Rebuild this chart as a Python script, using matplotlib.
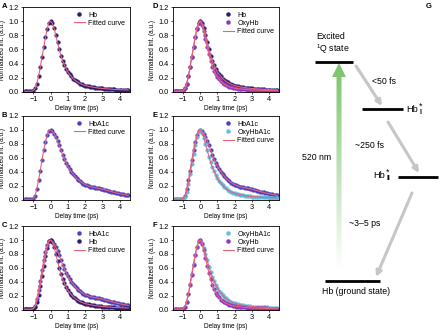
import numpy as np
import matplotlib
matplotlib.use('Agg')
import matplotlib.pyplot as plt
from matplotlib.patches import Polygon

plt.rcParams['font.family'] = ['Liberation Sans', 'DejaVu Sans']
plt.rcParams['mathtext.fontset'] = 'custom'
plt.rcParams['mathtext.rm'] = 'Liberation Sans'
plt.rcParams['mathtext.it'] = 'Liberation Sans:italic'

# delay times (ps)
delay = [-1.5, -1.4, -1.3, -1.2, -1.1,
         -1.0, -0.9, -0.8, -0.7, -0.6, -0.5, -0.4, -0.3, -0.2, -0.1, 0.0,
         0.1, 0.2, 0.3, 0.4, 0.5, 0.6, 0.7, 0.8, 0.9, 1.0,
         1.1, 1.2, 1.3, 1.4, 1.5, 1.6, 1.7, 1.8, 1.9, 2.0,
         2.1, 2.2, 2.3, 2.4, 2.5, 2.6, 2.7, 2.8, 2.9, 3.0,
         3.1, 3.2, 3.3, 3.4, 3.5, 3.6, 3.7, 3.8, 3.9, 4.0,
         4.1, 4.2, 4.3, 4.4, 4.5]

hb = [0.01, 0.01, 0.01, 0.01, 0.01,
      0.02, 0.05, 0.12, 0.22, 0.35, 0.49, 0.63, 0.77, 0.89, 0.98, 1.00,
      0.97, 0.90, 0.80, 0.70, 0.60, 0.51, 0.44, 0.38, 0.33, 0.28,
      0.25, 0.22, 0.19, 0.17, 0.15, 0.135, 0.12, 0.11, 0.10, 0.09,
      0.085, 0.08, 0.075, 0.07, 0.066, 0.062, 0.058, 0.055, 0.052, 0.05,
      0.048, 0.046, 0.044, 0.042, 0.04, 0.038, 0.036, 0.035, 0.034, 0.033,
      0.032, 0.031, 0.03, 0.03, 0.029]

hba1c = [0.01, 0.01, 0.01, 0.01, 0.01,
         0.02, 0.06, 0.16, 0.28, 0.42, 0.57, 0.71, 0.83, 0.93, 0.99, 1.00,
         0.98, 0.95, 0.90, 0.84, 0.78, 0.71, 0.64, 0.58, 0.53, 0.48,
         0.44, 0.40, 0.37, 0.34, 0.31, 0.29, 0.27, 0.25, 0.235, 0.22,
         0.21, 0.20, 0.19, 0.185, 0.18, 0.175, 0.17, 0.165, 0.16, 0.155,
         0.15, 0.14, 0.135, 0.13, 0.12, 0.115, 0.11, 0.10, 0.095, 0.09,
         0.085, 0.08, 0.075, 0.07, 0.065]

oxyhb = [0.01, 0.01, 0.01, 0.01, 0.01,
         0.02, 0.05, 0.12, 0.23, 0.36, 0.50, 0.64, 0.78, 0.90, 0.98, 1.00,
         0.95, 0.86, 0.75, 0.63, 0.53, 0.44, 0.36, 0.30, 0.25, 0.21,
         0.18, 0.15, 0.13, 0.11, 0.095, 0.085, 0.075, 0.065, 0.06, 0.055,
         0.05, 0.047, 0.044, 0.041, 0.039, 0.037, 0.035, 0.033, 0.031, 0.03,
         0.029, 0.028, 0.027, 0.026, 0.025, 0.024, 0.023, 0.022, 0.022, 0.021,
         0.02, 0.02, 0.02, 0.019, 0.019]

oxyhba1c = [0.01, 0.01, 0.01, 0.01, 0.01,
            0.02, 0.05, 0.12, 0.23, 0.37, 0.52, 0.66, 0.79, 0.90, 0.98, 1.00,
            0.96, 0.89, 0.80, 0.71, 0.62, 0.54, 0.47, 0.41, 0.36, 0.31,
            0.27, 0.24, 0.21, 0.185, 0.165, 0.145, 0.13, 0.115, 0.105, 0.095,
            0.088, 0.082, 0.076, 0.071, 0.066, 0.062, 0.058, 0.055, 0.052, 0.05,
            0.048, 0.046, 0.044, 0.042, 0.04, 0.039, 0.038, 0.037, 0.036, 0.035,
            0.034, 0.033, 0.032, 0.031, 0.03]

series = {'Hb': hb, 'HbA1c': hba1c, 'OxyHb': oxyhb, 'OxyHbA1c': oxyhba1c}
colors = {'Hb': '#2b1b74', 'HbA1c': '#4a3fc0', 'OxyHb': '#8a38c4', 'OxyHbA1c': '#5cc0e2'}
fit_color = '#e8607a'

panels = [('A', ['Hb']), ('B', ['HbA1c']), ('C', ['HbA1c', 'Hb']),
          ('D', ['Hb', 'OxyHb']), ('E', ['HbA1c', 'OxyHbA1c']), ('F', ['OxyHbA1c', 'OxyHb'])]

W, H = 440, 330
fig = plt.figure(figsize=(4.4, 3.3), dpi=100)


def px_axes(x0, y0, x1, y1):
    return fig.add_axes([x0 / W, 1 - y1 / H, (x1 - x0) / W, (y1 - y0) / H])


rows = [(7, 92), (116, 200), (226, 310)]
cols = [(23, 130), (173, 279)]

for i, (letter, names) in enumerate(panels):
    c, r = divmod(i, 3)
    ax = px_axes(cols[c][0], rows[r][0], cols[c][1], rows[r][1])
    for n in names:
        ax.plot(delay, series[n], 'o', ms=2.6, color=colors[n], mec=colors[n],
                mew=0.3, label=n, zorder=2)
    for k, n in enumerate(names):
        ax.plot(delay, series[n], '-', lw=0.8, color=fit_color, zorder=3,
                label='Fitted curve' if k == 0 else None)
    ax.set_xlim(-1.6, 4.6)
    ax.set_ylim(0, 1.2)
    ax.set_xticks([-1, 0, 1, 2, 3, 4])
    ax.set_yticks([0, 0.2, 0.4, 0.6, 0.8, 1.0, 1.2])
    ax.set_yticklabels(['0.0', '0.2', '0.4', '0.6', '0.8', '1.0', '1.2'])
    ax.tick_params(labelsize=5.3, length=1.5, width=0.5, pad=1.5, direction='out')
    for s in ax.spines.values():
        s.set_linewidth(0.6)
    ax.set_xlabel('Delay time (ps)', fontsize=4.7, labelpad=1.5)
    ax.set_ylabel('Normalized int. (a.u.)', fontsize=4.7, labelpad=2)
    ax.legend(loc='upper right', fontsize=5, frameon=False, handlelength=1.6,
              handletextpad=0.5, labelspacing=0.15, borderaxespad=0.3, markerscale=1.1)
    fig.text((cols[c][0] - 21) / W, 1 - (rows[r][0] - 4) / H, letter,
             fontsize=5.5, fontweight='bold', va='top')

# energy diagram (G), drawn in pixel units
g = fig.add_axes([290 / W, 0, 150 / W, 1])
g.axis('off')
fig.text(426 / W, 1 - 3 / H, 'G', fontsize=5.5, fontweight='bold', va='top')

level_x = [(315, 353), (362, 403), (398, 438), (325, 380)]
level_y = [62, 109, 177, 281]
for (x0, x1), y in zip(level_x, level_y):
    g.plot([x0, x1], [y, y], color='black', lw=2.0, solid_capstyle='butt')

# green excitation arrow with fading gradient
arrow_shape = Polygon([(339, 63), (346, 77), (341.5, 77), (341.5, 270),
                       (336.5, 270), (336.5, 77), (332, 77)], closed=True,
                      facecolor='none', edgecolor='none')
g.add_patch(arrow_shape)
grad = np.zeros((200, 1, 4))
grad[:, 0, 0] = 0.45
grad[:, 0, 1] = 0.75
grad[:, 0, 2] = 0.38
grad[:, 0, 3] = np.linspace(0.95, 0.0, 200)
im = g.imshow(grad, extent=(331, 347, 270, 63), origin='upper', aspect='auto',
              interpolation='bilinear', zorder=1)
im.set_clip_path(arrow_shape)
g.set_xlim(290, 440)
g.set_ylim(330, 0)

# relaxation arrows
relax = [((356, 66), (382, 106)), ((388, 122), (419, 173)), ((412, 193), (376, 277))]
for start, end in relax:
    g.annotate('', xy=end, xytext=start,
               arrowprops=dict(arrowstyle='-|>', color='#c6c6c6', lw=2.2,
                               mutation_scale=8, shrinkA=0, shrinkB=0))

fs = 6.3
g.text(316, 56, 'Excited\n$^{1}$Q state', fontsize=fs, ha='left', va='bottom', linespacing=1.1)
g.text(384, 81, '<50 fs', fontsize=fs, ha='center', va='center')
g.text(369, 145, '~250 fs', fontsize=fs, ha='center', va='center')
g.text(317, 158, '520 nm', fontsize=fs, ha='center', va='center')
g.text(365, 223, '~3–5 ps', fontsize=fs, ha='center', va='center')
g.text(356, 292, 'Hb (ground state)', fontsize=fs, ha='center', va='center')

# intermediate state labels: Hb with * superscript and roman-numeral subscript
g.text(406, 110, 'Hb', fontsize=fs + 0.4, ha='left', va='center')
g.text(418.5, 106, '*', fontsize=fs, ha='left', va='center')
g.text(419.5, 112.5, 'I', fontsize=fs - 1.5, ha='left', va='center', fontweight='bold')
g.text(373, 176, 'Hb', fontsize=fs + 0.4, ha='left', va='center')
g.text(385.5, 172, '*', fontsize=fs, ha='left', va='center')
g.text(386.5, 178.5, 'II', fontsize=fs - 1.5, ha='left', va='center', fontweight='bold')

fig.savefig('out.png', dpi=100, facecolor='w')
plt.close()
